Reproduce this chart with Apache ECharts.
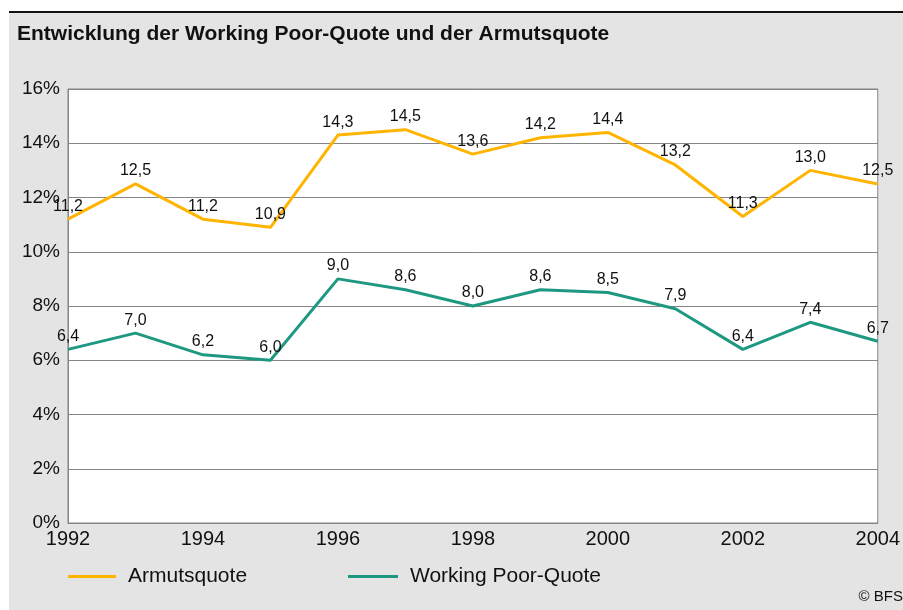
<!DOCTYPE html>
<html>
<head>
<meta charset="utf-8">
<script src="https://cdn.jsdelivr.net/npm/echarts@6/dist/echarts.min.js"></script>
<style>
  html, body { margin: 0; padding: 0; background: #fff; }
  #chart { width: 903px; height: 610px; }
</style>
</head>
<body>
<div id="chart"></div>
<script>
// years on the x axis
const years = ['1992', '1993', '1994', '1995', '1996', '1997', '1998', '1999', '2000', '2001', '2002', '2003', '2004']
// Armutsquote in %
const armutsquote = [11.2, 12.5, 11.2, 10.9, 14.3, 14.5, 13.6, 14.2, 14.4, 13.2, 11.3, 13.0, 12.5]
// Working Poor-Quote in %
const workingPoor = [6.4, 7.0, 6.2, 6.0, 9.0, 8.6, 8.0, 8.6, 8.5, 7.9, 6.4, 7.4, 6.7]

const font = 'Liberation Sans, Arial, sans-serif'
const orange = '#ffb400'
const teal = '#1f9882'

const chart = echarts.init(document.getElementById('chart'), null, { renderer: 'canvas' })

const labelOpt = {
  show: true,
  position: 'top',
  distance: 5,
  color: '#111',
  fontSize: 16,
  fontFamily: font,
  formatter: (p) => p.value.toFixed(1).replace('.', ',')
}

const legendText = { color: '#111', fontSize: 21, fontFamily: font, padding: [0, 0, 0, 7] }

chart.setOption({
  animation: false,
  backgroundColor: '#fff',
  graphic: [
    { type: 'rect', shape: { x: 9, y: 11, width: 894, height: 599 }, style: { fill: '#e4e4e4' }, z: -10 },
    { type: 'rect', shape: { x: 9, y: 11, width: 894, height: 2 }, style: { fill: '#111' }, z: -9 },
    {
      type: 'text', right: 0, top: 589,
      style: { text: '© BFS', fontSize: 15, fontFamily: font, fill: '#111' }
    }
  ],
  title: {
    text: 'Entwicklung der Working Poor-Quote und der Armutsquote',
    left: 12,
    top: 19,
    textStyle: { color: '#111', fontSize: 21, fontWeight: 'bold', fontFamily: font }
  },
  legend: [
    {
      data: ['Armutsquote'],
      left: 68, top: 566, padding: 0,
      icon: 'rect',
      itemWidth: 48, itemHeight: 3, itemGap: 12,
      textStyle: legendText
    },
    {
      data: ['Working Poor-Quote'],
      left: 348, top: 566, padding: 0,
      icon: 'rect',
      itemWidth: 50, itemHeight: 3, itemGap: 12,
      textStyle: legendText
    }
  ],
  grid: {
    left: 68, right: 23, top: 89, bottom: 87,
    show: true,
    backgroundColor: '#fff',
    borderColor: '#858585',
    borderWidth: 1,
    containLabel: false
  },
  xAxis: {
    type: 'category',
    data: years,
    boundaryGap: false,
    axisLine: { lineStyle: { color: '#858585' } },
    axisTick: { show: false },
    splitLine: { show: false },
    axisLabel: { interval: 1, color: '#111', fontSize: 20, fontFamily: font, margin: 6 }
  },
  yAxis: {
    type: 'value',
    min: 0, max: 16, interval: 2,
    axisLine: { show: true, lineStyle: { color: '#858585' } },
    axisTick: { show: false },
    splitLine: { lineStyle: { color: '#858585', width: 1 } },
    axisLabel: { formatter: '{value}%', color: '#111', fontSize: 19, fontFamily: font, margin: 8 }
  },
  series: [
    {
      name: 'Armutsquote', type: 'line', symbol: 'circle', symbolSize: 0,
      data: armutsquote,
      lineStyle: { color: orange, width: 3 },
      itemStyle: { color: orange },
      label: labelOpt
    },
    {
      name: 'Working Poor-Quote', type: 'line', symbol: 'circle', symbolSize: 0,
      data: workingPoor,
      lineStyle: { color: teal, width: 3 },
      itemStyle: { color: teal },
      label: labelOpt
    }
  ]
})
</script>
</body>
</html>
